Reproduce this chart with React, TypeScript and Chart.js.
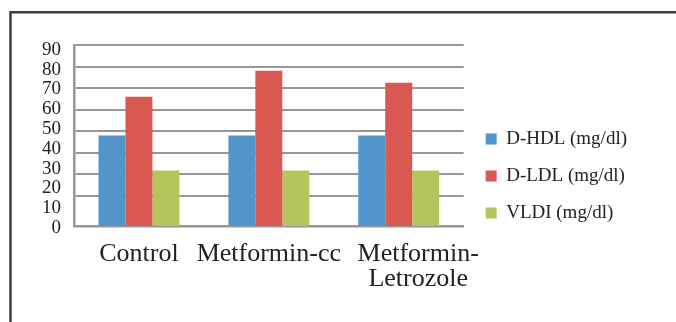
import React, { useEffect, useRef } from "react";
import { Chart, registerables } from "chart.js";

Chart.register(...registerables);

// Groups and lipid measurements
const categories: (string | string[])[] = [
  "Control",
  "Metformin-cc",
  ["      Metformin-", "      Letrozole"],
];
const hdlValues = [48, 48, 48];
const ldlValues = [66, 78, 72.5];
const vldiValues = [31.7, 31.7, 31.7];

const seriesLabels = ["D-HDL (mg/dl)", "D-LDL (mg/dl)", "VLDI (mg/dl)"];
const seriesColors = ["#5195CA", "#D95852", "#B6C55B"];

// Horizontal grid values and the printed axis labels
const gridValues = [20, 30, 40, 50, 60, 70, 80, 90];
const axisLabelValues = [0, 10, 20, 30, 40, 50, 60, 70, 80, 90];

const GRID = "#97979b";
const TEXT = "#222222";
const FONT = "'Liberation Serif', 'Times New Roman', serif";

// Dark frame along the top and left edges of the figure
const framePlugin = {
  id: "frame",
  beforeDraw(chart: any) {
    const { ctx, width, height } = chart;
    ctx.save();
    ctx.fillStyle = "#ffffff";
    ctx.fillRect(0, 0, width, height);
    ctx.strokeStyle = "#3e3e3e";
    ctx.lineWidth = 2.5;
    ctx.beginPath();
    ctx.moveTo(10.5, height + 2);
    ctx.lineTo(10.5, 12.2);
    ctx.lineTo(width + 2, 12.2);
    ctx.stroke();
    ctx.restore();
  },
};

export default function App() {
  const canvasRef = useRef<HTMLCanvasElement | null>(null);

  useEffect(() => {
    if (!canvasRef.current) return;
    const values = [hdlValues, ldlValues, vldiValues];
    const chart = new Chart(canvasRef.current, {
      type: "bar",
      data: {
        labels: categories,
        datasets: values.map((data, i) => ({
          label: seriesLabels[i],
          data,
          backgroundColor: seriesColors[i],
          borderWidth: 0,
          categoryPercentage: 0.623,
          barPercentage: 1,
          yAxisID: "y",
        })),
      },
      options: {
        animation: false,
        responsive: false,
        maintainAspectRatio: false,
        devicePixelRatio: 1,
        layout: { padding: { top: 45, left: 29, right: 39, bottom: 15 } },
        plugins: {
          title: { display: false },
          tooltip: { enabled: false },
          legend: {
            position: "right",
            maxWidth: 300,
            labels: {
              boxWidth: 11,
              boxHeight: 11,
              padding: 18,
              color: TEXT,
              font: { family: FONT, size: 19 },
            },
          },
        },
        scales: {
          x: {
            grid: { display: false },
            border: { display: true, color: GRID, width: 2.5 },
            ticks: {
              color: TEXT,
              font: { family: FONT, size: 26, lineHeight: 0.95 },
              padding: 8,
              autoSkip: false,
              maxRotation: 0,
              minRotation: 0,
            },
            afterFit: (scale: any) => {
              scale.height = 81;
            },
          },
          y: {
            position: "left",
            weight: 0,
            min: 6,
            max: 90,
            afterBuildTicks: (scale: any) => {
              scale.ticks = gridValues.map((v) => ({ value: v }));
            },
            grid: { color: GRID, lineWidth: 2, drawTicks: false },
            border: { display: true, color: GRID, width: 2.5 },
            ticks: { display: false },
          },
          yl: {
            position: "left",
            weight: 1,
            min: 1,
            max: 92.5,
            afterBuildTicks: (scale: any) => {
              scale.ticks = axisLabelValues.map((v) => ({ value: v }));
            },
            grid: { display: false, drawTicks: false },
            border: { display: false },
            ticks: {
              color: TEXT,
              font: { family: FONT, size: 19, lineHeight: 1 },
              padding: 13,
              autoSkip: false,
            },
          },
          // empty strip between the plot and the legend
          gap: {
            position: "right",
            grid: { display: false, drawTicks: false },
            border: { display: false },
            ticks: { display: false },
            afterFit: (scale: any) => {
              scale.width = 4;
            },
          },
        },
      },
      plugins: [framePlugin],
    } as any);
    return () => chart.destroy();
  }, []);

  return (
    <div style={{ position: "fixed", left: 0, top: 0, width: 676, height: 322, background: "#fff" }}>
      <canvas ref={canvasRef} width={676} height={322} style={{ width: 676, height: 322, display: "block" }} />
    </div>
  );
}
